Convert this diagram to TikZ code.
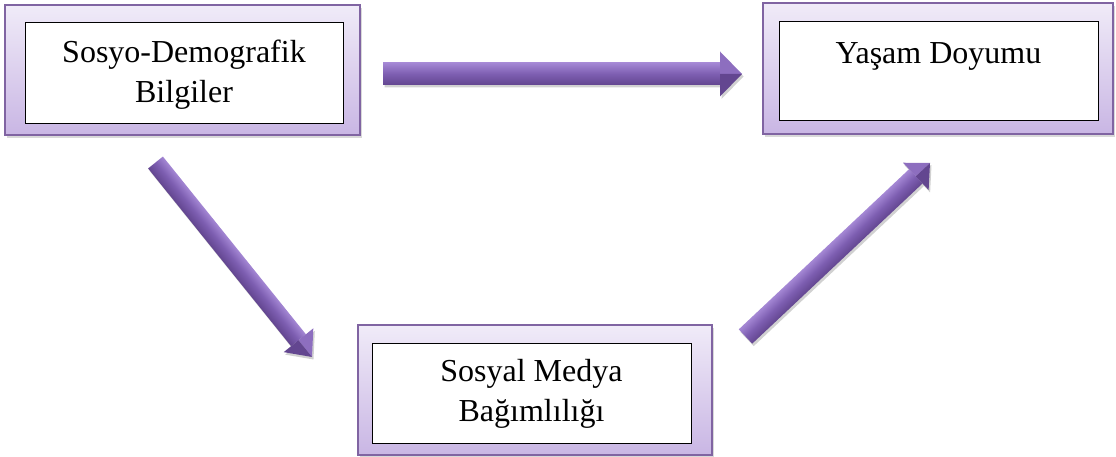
\documentclass[tikz,border=0pt]{standalone}
\usepackage{fontspec}
\setmainfont{Liberation Serif}
\usetikzlibrary{calc,shadows}
\definecolor{boxborder}{HTML}{8064A2}
\definecolor{boxtop}{HTML}{F0EBF8}
\definecolor{boxbot}{HTML}{C9B6E4}
\definecolor{arrlight}{HTML}{A487D4}
\definecolor{arrmid}{HTML}{7D5EB1}
\definecolor{arrdark}{HTML}{634690}
\makeatletter
\newdimen\arAx \newdimen\arAy \newdimen\arBx \newdimen\arBy
\newcommand\purplearrow[5]{%
  \pgfpointanchor{#1}{center}\global\arAx=\pgf@x \global\arAy=\pgf@y
  \pgfpointanchor{#2}{center}\global\arBx=\pgf@x \global\arBy=\pgf@y
  \pgfmathsetmacro\arang{atan2(\the\arBy-\the\arAy,\the\arBx-\the\arAx)}%
  \pgfmathsetmacro\arlen{veclen(\the\arBx-\the\arAx,\the\arBy-\the\arAy)}%
  \pgfmathsetmacro\arneck{\arlen-#5}%
  \begin{scope}[transform canvas={shift={($(#1)+(1.5,2.5)$)},rotate=\arang}]
    \fill[black,opacity=0.18] (0pt,-#3pt) -- (\arneck pt,-#3pt) -- (\arneck pt,-#4pt) -- (\arlen pt,0pt) -- (\arneck pt,#4pt) -- (\arneck pt,#3pt) -- (0pt,#3pt) -- cycle;
  \end{scope}
  \begin{scope}[transform canvas={shift={(#1)},rotate=\arang}]
    \shade[top color=arrlight,bottom color=arrdark,middle color=arrmid] (0pt,-#3pt) rectangle (\arneck pt,#3pt);
    \fill[arrmid!60!arrlight] (\arneck pt,0pt) -- (\arneck pt,#4pt) -- (\arlen pt,0pt) -- cycle;
    \fill[arrdark] (\arneck pt,0pt) -- (\arneck pt,-#4pt) -- (\arlen pt,0pt) -- cycle;
  \end{scope}
}
\makeatother
\tikzset{
  outerbox/.style={draw=boxborder, line width=1.5pt, top color=boxtop, bottom color=boxbot,
    drop shadow={shadow xshift=1.5pt, shadow yshift=-3pt, opacity=0.3}, inner sep=0pt},
  innerbox/.style={draw=black, line width=0.8pt, fill=white, inner sep=0pt},
  boxtext/.style={inner sep=0pt, align=center, font=\fontsize{32}{40}\selectfont},
}
\begin{document}
\begin{tikzpicture}[x=1pt,y=-1pt]
\useasboundingbox (0,0) rectangle (1116,457);
% boxes
\node[outerbox, minimum width=355pt, minimum height=130pt] (sdo) at (182.5,70) {};
\node[innerbox, minimum width=318pt, minimum height=101pt] (sd) at (184,72.5) {};
\node[boxtext] (sdt) at ($(sd.center)+(0,2.5)$) {Sosyo-Demografik\\Bilgiler};
\node[outerbox, minimum width=350pt, minimum height=131pt] (ydo) at (938,68.5) {};
\node[innerbox, minimum width=319pt, minimum height=99pt] (yd) at (938.5,70.5) {};
\node[boxtext] (ydt) at ($(yd.center)+(0,2.5)$) {Yaşam Doyumu\\\mbox{}};
\node[outerbox, minimum width=354pt, minimum height=130pt] (smo) at (535,390) {};
\node[innerbox, minimum width=319pt, minimum height=100pt] (sm) at (531.5,393) {};
\node[boxtext] (smt) at ($(sm.center)+(0,1)$) {Sosyal Medya\\Bağımlılığı};
% arrow end points
\coordinate (a1s) at (383,74);
\coordinate (a1e) at (742,74);
\coordinate (a2s) at (155.5,162.5);
\coordinate (a2e) at (312,357);
\coordinate (a3s) at (745.5,336.5);
\coordinate (a3e) at (930,163);
\purplearrow{a1s}{a1e}{11}{22.5}{22}
\purplearrow{a2s}{a2e}{9.5}{19}{21.5}
\purplearrow{a3s}{a3e}{9.8}{18.7}{19.5}
\end{tikzpicture}
\end{document}
